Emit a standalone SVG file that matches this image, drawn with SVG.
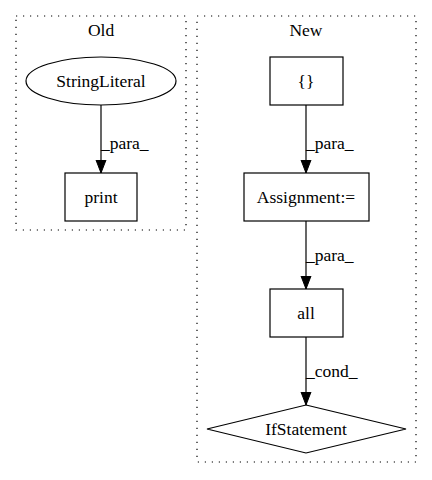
<svg xmlns="http://www.w3.org/2000/svg" width="432" height="480" viewBox="0 0 432 480">
<style>
text{font-family:"Liberation Serif","Times New Roman",serif;font-size:17.5px;fill:#000}
.c{text-anchor:middle}
.cl{fill:none;stroke:#000;stroke-width:1.2;stroke-dasharray:1.2,5.8}
.n{fill:none;stroke:#000;stroke-width:1.2}
.e{fill:none;stroke:#000;stroke-width:1.2}
</style>
<defs>
<marker id="a" markerWidth="14" markerHeight="12" refX="13" refY="6" orient="auto" markerUnits="userSpaceOnUse">
<path d="M0,1 L13,6 L0,11 Z" fill="#000" stroke="#000"/>
</marker>
</defs>
<rect width="432" height="480" fill="#fff"/>
<g id="cluster_old">
<rect class="cl" x="16" y="16" width="170" height="214"/>
<text class="c" x="101" y="36">Old</text>
</g>
<g id="cluster_new">
<rect class="cl" x="197" y="16" width="219" height="446"/>
<text class="c" x="306" y="36">New</text>
</g>
<g id="edges">
<path class="e" d="M101,105 L101,173" marker-end="url(#a)"/>
<text x="101" y="149">_para_</text>
<path class="e" d="M306,105 L306,173" marker-end="url(#a)"/>
<text x="306" y="149">_para_</text>
<path class="e" d="M306,221 L306,289" marker-end="url(#a)"/>
<text x="306" y="261">_para_</text>
<path class="e" d="M306,337 L306,405" marker-end="url(#a)"/>
<text x="306" y="377">_cond_</text>
</g>
<g id="StringLiteral">
<ellipse class="n" cx="101" cy="81" rx="75" ry="24"/>
<text class="c" x="101" y="87">StringLiteral</text>
</g>
<g id="print">
<rect class="n" x="65" y="173" width="72" height="48"/>
<text class="c" x="101" y="203">print</text>
</g>
<g id="braces">
<rect class="n" x="270" y="57" width="73" height="48"/>
<text class="c" x="306" y="87">{}</text>
</g>
<g id="Assignment">
<rect class="n" x="244" y="173" width="125" height="48"/>
<text class="c" x="306" y="203">Assignment:=</text>
</g>
<g id="all">
<rect class="n" x="270" y="289" width="73" height="48"/>
<text class="c" x="306" y="319">all</text>
</g>
<g id="IfStatement">
<polygon class="n" points="306,405 406,429 306,453 207,429"/>
<text class="c" x="306" y="435">IfStatement</text>
</g>
</svg>
